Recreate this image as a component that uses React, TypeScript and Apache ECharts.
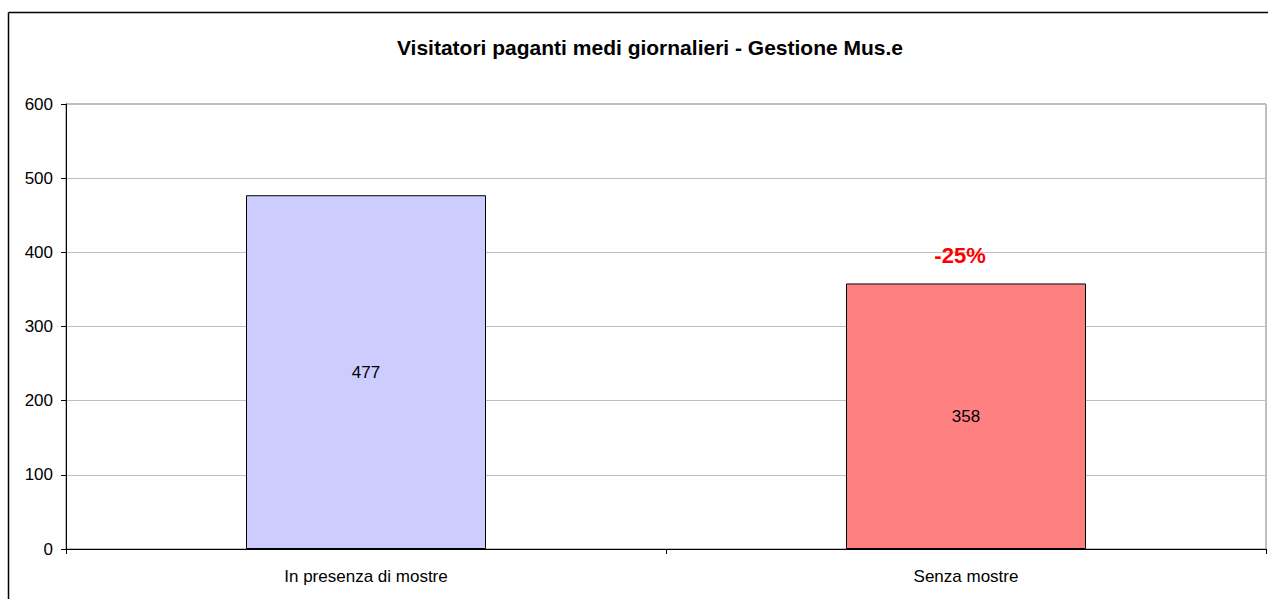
import React, { useEffect, useRef } from "react";
import * as echarts from "echarts";

const categories = ["In presenza di mostre", "Senza mostre"];
const values = [477, 358];
const barColors = ["#CCCCFF", "#FF8080"];
const changeLabel = "-25%";
const titleText = "Visitatori paganti medi giornalieri - Gestione Mus.e";

export default function App() {
  const ref = useRef<HTMLDivElement>(null);
  useEffect(() => {
    if (!ref.current) return;
    const chart = echarts.init(ref.current, undefined, { renderer: "svg" });
    const font = "Arial, 'Liberation Sans', sans-serif";
    chart.setOption({
      animation: false,
      backgroundColor: "#ffffff",
      textStyle: { fontFamily: font },
      title: {
        text: titleText,
        left: 645,
        top: 32,
        textAlign: "center",
        textStyle: { fontFamily: font, fontSize: 21, fontWeight: "bold", color: "#000" },
      },
      graphic: [
        {
          type: "line",
          shape: { x1: 8.5, y1: 12.5, x2: 1268, y2: 12.5 },
          style: { stroke: "#000", lineWidth: 1.5 },
          silent: true,
        },
        {
          type: "line",
          shape: { x1: 8.5, y1: 12.5, x2: 8.5, y2: 599 },
          style: { stroke: "#000", lineWidth: 1.5 },
          silent: true,
        },
      ],
      grid: {
        left: 66,
        right: 2,
        top: 104,
        bottom: 50,
        show: true,
        borderColor: "#808080",
        borderWidth: 1,
        backgroundColor: "transparent",
      },
      xAxis: {
        type: "category",
        data: categories,
        axisLine: { lineStyle: { color: "#000", width: 1 } },
        axisTick: { show: true, length: 5, lineStyle: { color: "#000" } },
        axisLabel: { color: "#000", fontSize: 17, margin: 19, fontFamily: font },
      },
      yAxis: {
        type: "value",
        min: 0,
        max: 600,
        interval: 100,
        axisLine: { show: true, lineStyle: { color: "#000", width: 1 } },
        axisTick: { show: true, length: 5, lineStyle: { color: "#000" } },
        axisLabel: { color: "#000", fontSize: 17, margin: 13, fontFamily: font },
        splitLine: { show: true, lineStyle: { color: "#C0C0C0", width: 1 } },
      },
      series: [
        {
          type: "bar",
          barWidth: "40%",
          data: values.map((v, i) => ({
            value: v,
            itemStyle: { color: barColors[i], borderColor: "#000", borderWidth: 1 },
          })),
          label: {
            show: true,
            position: "inside",
            color: "#000",
            fontSize: 17,
            fontFamily: font,
          },
          markPoint: {
            symbol: "rect",
            symbolSize: 1,
            itemStyle: { color: "transparent" },
            label: {
              show: true,
              position: "inside",
              offset: [-6, -28],
              formatter: changeLabel,
              color: "#FF0000",
              fontSize: 22,
              fontWeight: "bold",
              fontFamily: font,
            },
            data: [{ coord: [1, values[1]], value: values[1] }],
          },
        },
      ],
    });
    return () => chart.dispose();
  }, []);
  return (
    <div
      ref={ref}
      style={{ position: "absolute", left: 0, top: 0, width: 1268, height: 599 }}
    />
  );
}
